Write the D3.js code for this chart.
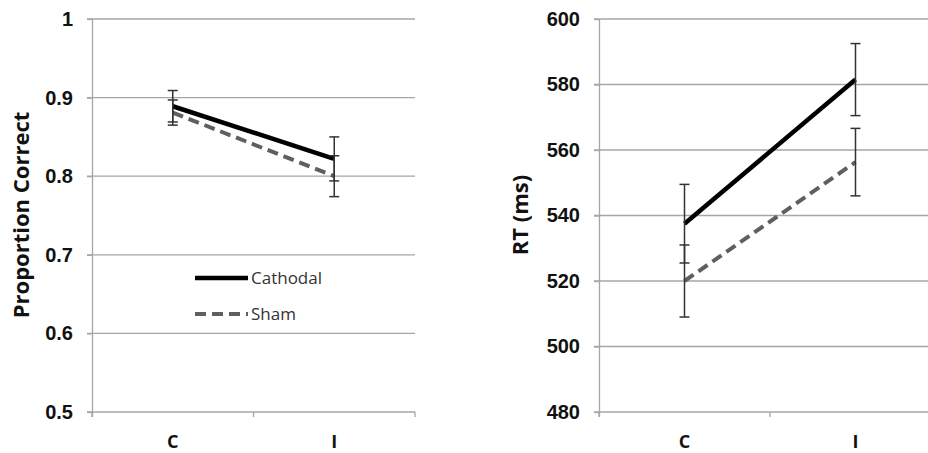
<!DOCTYPE html>
<html>
<head>
<meta charset="utf-8">
<script src="https://cdn.jsdelivr.net/npm/d3@7"></script>
<style>
  body { margin: 0; background: #fff; }
  svg { display: block; font-family: "Open Sans", sans-serif; }
  .tick text { font-weight: 700; fill: #111; }
</style>
</head>
<body>
<svg width="928" height="453"></svg>
<script>
// data
var categories = ["C", "I"];
var seriesNames = ["Cathodal", "Sham"];

var accCathodal = [0.889, 0.822];
var accCathodalErr = [0.020, 0.028];
var accSham = [0.881, 0.800];
var accShamErr = [0.016, 0.026];
var accTicks = [0.5, 0.6, 0.7, 0.8, 0.9, 1];

var rtCathodal = [537.5, 581.5];
var rtCathodalErr = [12, 11];
var rtSham = [520, 556.3];
var rtShamErr = [11, 10.3];
var rtTicks = [480, 500, 520, 540, 560, 580, 600];

var svg = d3.select("svg");

var gridColor = "#a6a6a6",
    errColor = "#333",
    shamColor = "#5f5f5f";

function panel(opt) {
  var g = svg.append("g");

  var x = d3.scaleBand().domain(categories).range([opt.left, opt.right]);
  var y = d3.scaleLinear().domain(opt.domain).range([412, 19]);

  // horizontal gridlines
  g.append("g").selectAll("line")
    .data(opt.ticks)
    .enter().append("line")
      .attr("x1", opt.left - 5)
      .attr("x2", opt.right)
      .attr("y1", function(d) { return y(d); })
      .attr("y2", function(d) { return y(d); })
      .attr("stroke", gridColor)
      .attr("stroke-width", 1.3);

  // y axis
  var yAxis = g.append("g")
      .attr("transform", "translate(" + opt.left + ",0)")
      .call(d3.axisLeft(y).tickValues(opt.ticks).tickFormat(opt.format).tickSize(5).tickSizeOuter(0).tickPadding(14));
  yAxis.select(".domain").attr("stroke", gridColor).attr("stroke-width", 1.3)
      .attr("d", "M0.5,19V417");
  yAxis.selectAll(".tick line").attr("stroke", gridColor).attr("stroke-width", 1.3);
  yAxis.selectAll(".tick text").style("font-size", "20px");

  // category axis: ticks between categories
  var bounds = [opt.left].concat(categories.map(function(c) { return x(c) + x.bandwidth(); }));
  g.append("g").selectAll("line")
    .data(bounds)
    .enter().append("line")
      .attr("x1", function(d) { return d; })
      .attr("x2", function(d) { return d; })
      .attr("y1", 412)
      .attr("y2", 417)
      .attr("stroke", gridColor)
      .attr("stroke-width", 1.3);

  g.append("g").selectAll("text")
    .data(categories)
    .enter().append("text")
      .attr("x", function(d) { return x(d) + x.bandwidth() / 2; })
      .attr("y", 448)
      .attr("text-anchor", "middle")
      .style("font-size", "18px")
      .style("font-weight", 700)
      .attr("fill", "#111")
      .text(function(d) { return d; });

  // y title
  g.append("text")
      .attr("transform", "translate(" + opt.titleX + ",215) rotate(-90)")
      .attr("text-anchor", "middle")
      .style("font-size", "22px")
      .style("font-weight", 700)
      .attr("fill", "#111")
      .text(opt.title);

  var cx = function(i) { return x(categories[i]) + x.bandwidth() / 2; };
  var line = d3.line()
      .x(function(d, i) { return cx(i); })
      .y(function(d) { return y(d); });

  g.append("path")
      .datum(opt.sham)
      .attr("d", line)
      .attr("fill", "none")
      .attr("stroke", shamColor)
      .attr("stroke-width", 4)
      .attr("stroke-dasharray", "11,6");

  g.append("path")
      .datum(opt.cathodal)
      .attr("d", line)
      .attr("fill", "none")
      .attr("stroke", "#000")
      .attr("stroke-width", 4.5);

  // error bars
  var bars = [];
  [[opt.cathodal, opt.cathodalErr], [opt.sham, opt.shamErr]].forEach(function(s) {
    s[0].forEach(function(v, i) { bars.push({ i: i, lo: v - s[1][i], hi: v + s[1][i] }); });
  });
  var eb = g.append("g").attr("stroke", errColor).attr("stroke-width", 1.5);
  bars.forEach(function(b) {
    var xc = cx(b.i);
    eb.append("line").attr("x1", xc).attr("x2", xc).attr("y1", y(b.lo)).attr("y2", y(b.hi));
    [b.lo, b.hi].forEach(function(v) {
      eb.append("line").attr("x1", xc - 5).attr("x2", xc + 5).attr("y1", y(v)).attr("y2", y(v));
    });
  });
  return { x: x, y: y };
}

panel({
  left: 92, right: 415,
  domain: [0.5, 1], ticks: accTicks,
  format: function(d) { return d === 1 ? "1" : d3.format(".1f")(d); },
  title: "Proportion Correct", titleX: 29,
  cathodal: accCathodal, cathodalErr: accCathodalErr,
  sham: accSham, shamErr: accShamErr
});

panel({
  left: 599, right: 941,
  domain: [480, 600], ticks: rtTicks,
  format: d3.format("d"),
  title: "RT (ms)", titleX: 528,
  cathodal: rtCathodal, cathodalErr: rtCathodalErr,
  sham: rtSham, shamErr: rtShamErr
});

// legend in the left panel
var legend = svg.append("g").attr("transform", "translate(195,278)");
seriesNames.forEach(function(name, i) {
  var row = legend.append("g").attr("transform", "translate(0," + (i * 36) + ")");
  row.append("line")
      .attr("x1", 0).attr("x2", 53)
      .attr("stroke", i === 0 ? "#000" : shamColor)
      .attr("stroke-width", i === 0 ? 4.5 : 4)
      .attr("stroke-dasharray", i === 0 ? null : "11,6");
  row.append("text")
      .attr("x", 56).attr("y", 6)
      .style("font-size", "17px")
      .attr("fill", "#333")
      .text(name);
});
</script>
</body>
</html>
